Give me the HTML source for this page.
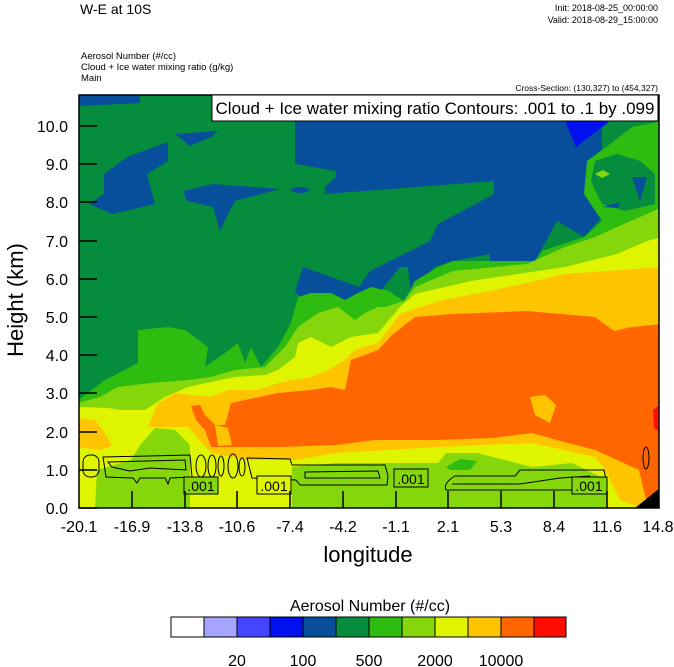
<!DOCTYPE html>
<html><head><meta charset="utf-8"><style>
html,body{margin:0;padding:0;background:#fff;}
svg{display:block;font-family:"Liberation Sans",sans-serif;}
</style></head><body>
<svg width="674" height="667" viewBox="0 0 674 667" xmlns="http://www.w3.org/2000/svg">
<defs><clipPath id="pc"><rect x="79" y="95" width="580" height="413"/></clipPath></defs>
<text x="80" y="14" font-size="14">W-E at 10S</text>
<text x="658" y="11" font-size="9" text-anchor="end">Init: 2018-08-25_00:00:00</text>
<text x="658" y="23" font-size="9" text-anchor="end">Valid: 2018-08-29_15:00:00</text>
<text x="81" y="59" font-size="9.5">Aerosol Number   (#/cc)</text>
<text x="81" y="70" font-size="9.5">Cloud + Ice water mixing ratio   (g/kg)</text>
<text x="81" y="81" font-size="9.5">Main</text>
<text x="658" y="91" font-size="8.5" text-anchor="end">Cross-Section: (130,327) to (454,327)</text>
<g clip-path="url(#pc)">
<rect x="79" y="95" width="580" height="413" fill="#058c3c"/>
<g fill="#074f9b">
<polygon points="295,95 602,95 602,121 602,217 584,237 557,221 535,261 490,261 490,254 453,261 434,267 411,297 408,267 400,267 378,294 359,301 303,301 295,291 303,267 359,287 370,271 404,254 430,241 438,224 494,194 494,181 325,194 325,187 336,177 336,171 295,164"/>
<polygon points="104,174 127,157 168,142 168,161 147,174 155,204 112,214 89,204 104,194"/>
<polygon points="183,191 213,184 280,189 235,201 228,214 220,231 213,207 187,201"/>
<polygon points="175,134 217,131 213,136 190,146"/>
<ellipse cx="300" cy="190" rx="9" ry="3"/>
<polygon points="78,95 140,95 140,103 78,106"/>
</g>
<polygon fill="#0010ee" points="565,121 610,121 576,147"/>
<polygon fill="#2dbc0f" points="78,400 105,380 138,363 138,330 168,327 185,330 208,347 205,367 225,353 238,343 245,363 251,347 261,367 278,347 291,323 298,297 311,293 331,293 345,300 358,293 371,287 389,291 404,301 415,281 438,267 453,261 535,261 542,251 584,237 602,221 584,194 587,161 610,144 632,127 662,121 662,95 662,508 78,508"/>
<polygon fill="#058c3c" points="595,161 617,154 640,161 655,174 655,204 625,211 602,204 591,181"/>
<polygon fill="#85d70c" points="595,174 603,170 610,174 602,178"/>
<polygon fill="#074f9b" points="632,177 647,177 640,201"/>
<polygon fill="#074f9b" points="603,207 620,202 618,208"/>
<polygon fill="#85d70c" points="78,403 100,397 118,387 151,383 188,380 211,377 235,370 265,367 285,347 298,327 318,313 338,307 355,320 365,313 378,307 385,307 404,301 415,287 453,271 527,264 565,247 595,237 617,227 647,214 662,207 662,508 78,508"/>
<polygon fill="#dff500" points="78,407 108,408 121,410 145,410 165,397 188,387 211,382 235,377 265,375 278,370 295,357 298,343 311,337 331,347 351,337 378,333 400,307 415,294 471,281 565,267 617,254 647,241 662,237 662,508 78,508"/>
<polygon fill="#ffc400" points="158,403 175,393 211,397 228,390 258,390 278,383 311,377 328,370 345,360 355,350 378,343 400,314 438,301 490,291 565,274 662,267 662,508 640,508 620,500 605,470 595,457 532,443 438,447 336,453 296,460 249,460 211,453 188,427 165,427 148,427"/>
<polygon fill="#ffc400" points="78,418 95,420 105,433 112,446 100,450 78,447"/>
<polygon fill="#ff6600" points="191,406 200,405 205,415 215,425 225,425 231,403 278,393 311,390 331,387 345,390 351,360 378,350 393,334 415,317 453,314 527,311 595,317 614,331 632,327 662,324 662,508 648,508 639,470 595,450 568,443 532,433 493,438 438,440 375,440 336,445 280,447 245,447 211,447 205,430 196,420"/>
<polygon fill="#ffc400" points="530,397 545,395 556,405 550,423 535,415"/>
<polygon fill="#ffc400" points="215,425 228,428 232,445 218,446"/>
<polygon fill="#ff0d00" points="653,410 660,405 660,432 654,428"/>
<polygon fill="#000" points="635,508 660,508 660,488"/>
<polygon fill="#85d70c" points="95,508 97,470 131,460 140,445 155,428 175,430 190,445 190,508"/>
<polygon fill="#85d70c" points="292,508 292,467 336,463 438,463 446,453 477,453 532,467 572,463 607,480 607,508"/>
<polygon fill="#2dbc0f" points="446,467 460,459 477,461 470,470 450,470"/>
<g fill="none" stroke="#000" stroke-width="1">
<rect x="83" y="455" width="16" height="22" rx="7"/>
<path d="M103,457 L190,455 L192,477 L170,478 L168,484 L165,478 L140,478 L137,483 L133,478 L106,477 Z M108,462 L185,460 L186,470 L150,468 L130,471 L112,467 Z"/>
<ellipse cx="201" cy="466" rx="5" ry="11"/><ellipse cx="212" cy="466" rx="4" ry="11"/><ellipse cx="221" cy="466" rx="3" ry="10"/>
<ellipse cx="233" cy="466" rx="5" ry="12"/><ellipse cx="242" cy="467" rx="3" ry="9"/>
<path d="M247,458 L290,459 L292,465 L385,465 L388,476 L387,485 L300,485 L296,480 L252,478 Z M305,472 L378,471 L380,478 L305,478 Z"/>
<path d="M446,490 L600,490 L607,484 L604,470 L520,470 L515,476 L455,476 Q443,483 446,490 Z M452,484 L520,484 L560,478 L590,476"/>
<ellipse cx="646" cy="458" rx="3" ry="11"/>
</g>
<g font-size="14" text-anchor="middle">
<rect x="184" y="477" width="34" height="17" fill="#85d70c" stroke="#000"/><text x="201" y="491">.001</text>
<rect x="257" y="476" width="34" height="18" fill="#dff500" stroke="#000"/><text x="274" y="491">.001</text>
<rect x="394" y="469" width="34" height="18" fill="#85d70c" stroke="#000"/><text x="411" y="484">.001</text>
<rect x="572" y="477" width="35" height="17" fill="#85d70c" stroke="#000"/><text x="589" y="491">.001</text>
</g>
</g>
<rect x="79" y="95" width="580" height="413" fill="none" stroke="#000" stroke-width="1.5"/>
<rect x="212" y="95" width="446" height="26" fill="#fff" stroke="#000"/>
<text x="435" y="114" font-size="17" text-anchor="middle">Cloud + Ice water mixing ratio Contours: .001 to .1 by .099</text>
<g stroke="#000" stroke-width="1.5">
<line x1="79" y1="508" x2="97" y2="508"/><line x1="79" y1="470" x2="97" y2="470"/><line x1="79" y1="432" x2="97" y2="432"/><line x1="79" y1="393" x2="97" y2="393"/><line x1="79" y1="355" x2="97" y2="355"/><line x1="79" y1="317" x2="97" y2="317"/><line x1="79" y1="279" x2="97" y2="279"/><line x1="79" y1="241" x2="97" y2="241"/><line x1="79" y1="202" x2="97" y2="202"/><line x1="79" y1="164" x2="97" y2="164"/><line x1="79" y1="126" x2="97" y2="126"/>
<line x1="132" y1="508" x2="132" y2="491"/><line x1="185" y1="508" x2="185" y2="491"/><line x1="237" y1="508" x2="237" y2="491"/><line x1="290" y1="508" x2="290" y2="491"/><line x1="343" y1="508" x2="343" y2="491"/><line x1="396" y1="508" x2="396" y2="491"/><line x1="448" y1="508" x2="448" y2="491"/><line x1="501" y1="508" x2="501" y2="491"/><line x1="554" y1="508" x2="554" y2="491"/><line x1="607" y1="508" x2="607" y2="491"/>
</g>
<g font-size="16" text-anchor="end">
<text x="68" y="514">0.0</text><text x="68" y="476">1.0</text><text x="68" y="438">2.0</text><text x="68" y="399">3.0</text><text x="68" y="361">4.0</text><text x="68" y="323">5.0</text><text x="68" y="285">6.0</text><text x="68" y="247">7.0</text><text x="68" y="208">8.0</text><text x="68" y="170">9.0</text><text x="68" y="132">10.0</text>
</g>
<g font-size="16" text-anchor="middle">
<text x="79" y="532">-20.1</text><text x="132" y="532">-16.9</text><text x="185" y="532">-13.8</text><text x="237" y="532">-10.6</text><text x="290" y="532">-7.4</text><text x="343" y="532">-4.2</text><text x="396" y="532">-1.1</text><text x="448" y="532">2.1</text><text x="501" y="532">5.3</text><text x="554" y="532">8.4</text><text x="607" y="532">11.6</text><text x="658" y="532">14.8</text>
</g>
<text x="368" y="562" font-size="22" text-anchor="middle">longitude</text>
<text transform="translate(23,300) rotate(-90)" font-size="22" text-anchor="middle">Height (km)</text>
<text x="370" y="611" font-size="16" text-anchor="middle">Aerosol Number  (#/cc)</text>
<g stroke="#000" stroke-width="1">
<rect x="171" y="617" width="33" height="20" fill="#fff"/>
<rect x="204" y="617" width="33" height="20" fill="#a5a5ff"/>
<rect x="237" y="617" width="33" height="20" fill="#4545ff"/>
<rect x="270" y="617" width="33" height="20" fill="#0010ee"/>
<rect x="303" y="617" width="33" height="20" fill="#074f9b"/>
<rect x="336" y="617" width="33" height="20" fill="#058c3c"/>
<rect x="369" y="617" width="33" height="20" fill="#2dbc0f"/>
<rect x="402" y="617" width="33" height="20" fill="#85d70c"/>
<rect x="435" y="617" width="33" height="20" fill="#dff500"/>
<rect x="468" y="617" width="33" height="20" fill="#ffc400"/>
<rect x="501" y="617" width="33" height="20" fill="#ff6600"/>
<rect x="534" y="617" width="32" height="20" fill="#ff0d00"/>
</g>
<g font-size="16" text-anchor="middle">
<text x="237" y="666">20</text><text x="303" y="666">100</text><text x="369" y="666">500</text><text x="435" y="666">2000</text><text x="501" y="666">10000</text>
</g>
</svg>
</body></html>
